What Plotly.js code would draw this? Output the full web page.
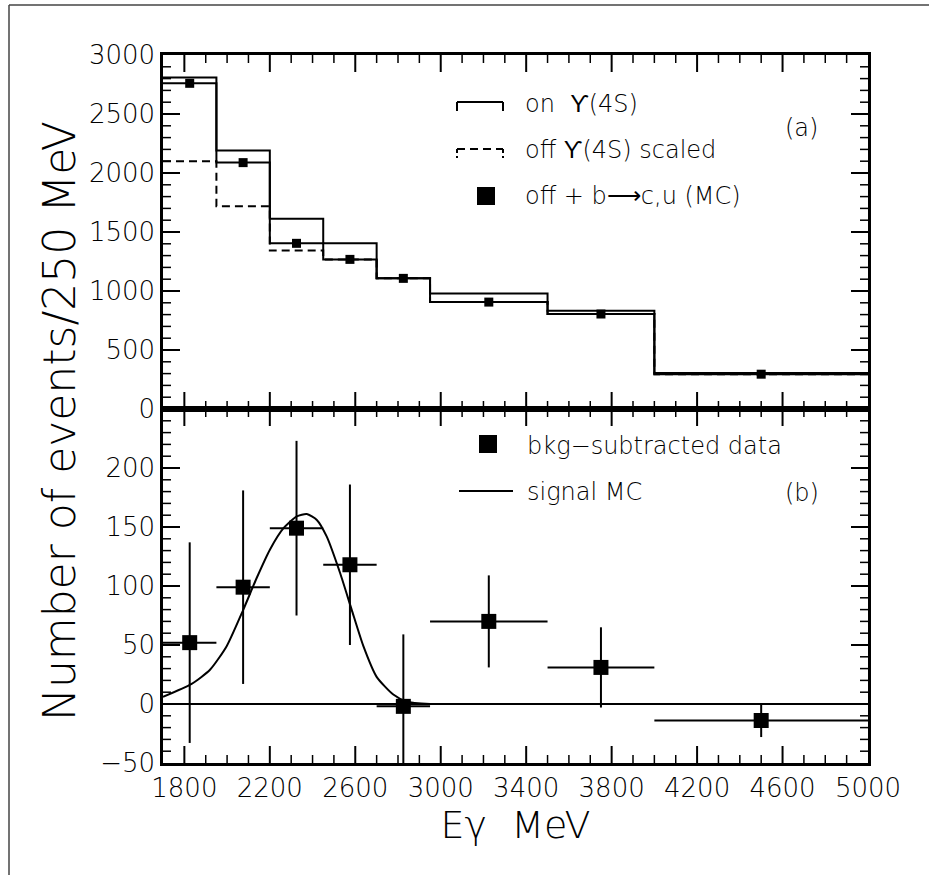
<!DOCTYPE html>
<html>
<head>
<meta charset="utf-8">
<script src="https://cdn.plot.ly/plotly-3.0.1.min.js"></script>
<style>
  html, body { margin: 0; padding: 0; background: #fff; }
  #chart { width: 929px; height: 875px; }
</style>
</head>
<body>
<div id="chart"></div>
<script>
// ---------- data ----------
const binEdges      = [1700, 1950, 2200, 2450, 2700, 2950, 3500, 4000, 5000];
const binCenters    = [1825, 2075, 2325, 2575, 2825, 3225, 3750, 4500];
const binHalfWidths = [125, 125, 125, 125, 125, 275, 250, 500];

// panel (a)
const onY4S      = [2810, 2190, 1612, 1404, 1107, 978, 832, 305];
const offScaled  = [2100, 1718, 1343, 1268, 1107, 906, 805, 295];
const offPlusBcu = [2760, 2088, 1404, 1268, 1107, 906, 805, 295];

// panel (b)
const bkgSub    = [52, 99, 149, 118, -2, 70, 31, -14];
const bkgSubErr = [85, 82, 74, 68, 61, 39, 34, 14];
const sigMCx = [1700, 1834, 1920, 1998, 2076, 2139, 2201, 2264, 2326, 2373, 2420, 2466, 2529, 2583, 2638, 2700, 2778, 2841, 2950];
const sigMCy = [6, 17, 29, 49, 80, 107, 131, 149, 159, 161, 156, 142, 111, 80, 49, 23, 8, 2, 0];

// tick labels
const yTickB = [-50, 0, 50, 100, 150, 200, 250];
const yTickBText = ['\u221250', '0', '50', '100', '150', '200', ''];

// ---------- helpers ----------
const W = 929, H = 875, ML = 163, MR = 61, MT = 55, MB = 112;
const PW = W - ML - MR, PH = H - MT - MB;
const px = x => (x - ML) / PW;
const py = y => (H - MB - y) / PH;
const stepY = v => v.concat([v[v.length - 1]]);

const FONT = 'DejaVu Sans, Liberation Sans, sans-serif';
const TICKFONT = { family: FONT, size: 26, color: '#000', weight: 300 };
const XR = [1700, 5000], YRB = [-50, 250], YRA = [0, 3000];

const traces = [
  { x: binEdges, y: stepY(offScaled), xaxis: 'x2', yaxis: 'y2', mode: 'lines',
    line: { shape: 'hv', color: '#000', width: 2, dash: '8px,5px' }, name: 'off Υ(4S) scaled', showlegend: false },
  { x: binEdges, y: stepY(offPlusBcu), xaxis: 'x2', yaxis: 'y2', mode: 'lines',
    line: { shape: 'hv', color: '#000', width: 2 }, name: 'off + b→c,u', showlegend: false },
  { x: binEdges, y: stepY(onY4S), xaxis: 'x2', yaxis: 'y2', mode: 'lines',
    line: { shape: 'hv', color: '#000', width: 2 }, name: 'on Υ(4S)', showlegend: false },
  { x: binCenters, y: offPlusBcu, xaxis: 'x2', yaxis: 'y2', mode: 'markers',
    marker: { symbol: 'square', size: 9, color: '#000' }, showlegend: false },
  { x: sigMCx, y: sigMCy, xaxis: 'x', yaxis: 'y', mode: 'lines',
    line: { shape: 'spline', smoothing: 0.6, color: '#000', width: 2 }, name: 'signal MC', showlegend: false },
  { x: binCenters, y: bkgSub, xaxis: 'x', yaxis: 'y', mode: 'markers',
    marker: { symbol: 'square', size: 15, color: '#000' },
    error_y: { type: 'data', array: bkgSubErr, visible: true, color: '#000', thickness: 2, width: 0 },
    error_x: { type: 'data', array: binHalfWidths, visible: true, color: '#000', thickness: 2, width: 0 },
    name: 'bkg-subtracted data', showlegend: false }
];

// ---------- inward frame ticks drawn as line traces (tick lengths in px converted to axis units) ----------
const MAJ = 17, MIN = 8;
function frameTicks(xref, yref, xr, yr, panelPx, xStep, xTick0, xMajor, yStep, yTick0, yMajor) {
  const dx = (xr[1] - xr[0]) / PW, dy = (yr[1] - yr[0]) / panelPx;
  const maj = { x: [], y: [] }, min = { x: [], y: [] };
  const isMaj = (v, t0, m) => Math.abs(((v - t0) % m + m) % m) < 1e-6;
  for (let v = xTick0; v < xr[1]; v += xStep) {
    const t = isMaj(v, xTick0, xMajor) ? maj : min, L = (t === maj ? MAJ : MIN) * dy;
    t.x.push(v, v, null, v, v, null);
    t.y.push(yr[0], yr[0] + L, null, yr[1], yr[1] - L, null);
  }
  for (let v = Math.ceil((yr[0] + 1e-9) / yStep) * yStep; v < yr[1]; v += yStep) {
    const t = isMaj(v, yTick0, yMajor) ? maj : min, L = (t === maj ? MAJ : MIN) * dx;
    t.x.push(xr[0], xr[0] + L, null, xr[1], xr[1] - L, null);
    t.y.push(v, v, null, v, v, null);
  }
  [[maj, 2], [min, 1.5]].forEach(p => traces.push({ x: p[0].x, y: p[0].y, xaxis: xref, yaxis: yref,
    mode: 'lines', connectgaps: false, line: { color: '#000', width: p[1] }, showlegend: false, hoverinfo: 'skip' }));
}
frameTicks('x', 'y', XR, YRB, PH / 2, 100, 1800, 400, 10, 0, 50);
frameTicks('x2', 'y2', XR, YRA, PH / 2, 100, 1800, 400, 100, 0, 500);

const shapes = [];
const annotations = [];
const lineShape = (x0, y0, x1, y1, dash, w) => ({
  type: 'line', xref: 'paper', yref: 'paper', x0: px(x0), y0: py(y0), x1: px(x1), y1: py(y1),
  line: { color: '#000', width: w || 2, dash: dash || 'solid' }
});
shapes.push(lineShape(457, 102, 503, 102));
shapes.push(lineShape(457, 102, 457, 111));
shapes.push(lineShape(503, 102, 503, 111));
shapes.push(lineShape(457, 149, 503, 149, '8px,5px'));
shapes.push(lineShape(457, 149, 457, 158, '4px,3px'));
shapes.push(lineShape(503, 149, 503, 158, '4px,3px'));
shapes.push({ type: 'rect', xref: 'paper', yref: 'paper', x0: px(477), x1: px(495), y0: py(187), y1: py(205),
  fillcolor: '#000', line: { width: 0 } });
shapes.push({ type: 'rect', xref: 'paper', yref: 'paper', x0: px(479), x1: px(497), y0: py(435), y1: py(453),
  fillcolor: '#000', line: { width: 0 } });
shapes.push(lineShape(459, 491, 513, 491));
shapes.push({ type: 'line', xref: 'paper', yref: 'paper', x0: px(9), x1: px(9), y0: py(5), y1: py(875),
  line: { color: '#444', width: 1.5 } });
shapes.push({ type: 'line', xref: 'paper', yref: 'paper', x0: px(9), x1: px(929), y0: py(5), y1: py(5),
  line: { color: '#444', width: 1.5 } });

const txt = (x, y, text, size, anchor) => ({
  xref: 'paper', yref: 'paper', x: px(x), y: py(y), text: text, showarrow: false,
  xanchor: anchor || 'left', yanchor: 'middle', font: { family: FONT, size: size || 24, color: '#000', weight: 300 }
});
annotations.push(txt(523, 104, 'on  \u03D2(4S)'));
annotations.push(txt(523, 150, 'off \u03D2(4S) scaled'));
annotations.push(txt(523, 196, 'off + b\u27F6c,u (MC)'));
annotations.push(txt(801, 128, '(a)', 24, 'center'));
annotations.push(txt(525, 446, 'bkg\u2212subtracted data'));
annotations.push(txt(525, 492, 'signal MC'));
annotations.push(txt(802, 493, '(b)', 24, 'center'));
annotations.push({ xref: 'paper', yref: 'paper', x: px(60), y: py(421), text: 'Number of events/250 MeV',
  showarrow: false, textangle: -90, xanchor: 'center', yanchor: 'middle',
  font: { family: FONT, size: 44, color: '#000', weight: 300 } });

const frameAxis = {
  ticks: '', showline: true, linecolor: '#000', linewidth: 2.5, mirror: true, showgrid: false, autorange: false
};

const layout = {
  width: W, height: H,
  margin: { l: ML, r: MR, t: MT, b: MB },
  paper_bgcolor: '#fff', plot_bgcolor: '#fff',
  showlegend: false,
  font: { family: FONT, color: '#000' },
  xaxis: Object.assign({}, frameAxis, { anchor: 'y', domain: [0, 1], range: XR, tick0: 1800, dtick: 400,
    zeroline: false, tickfont: TICKFONT,
    title: { text: 'E\u03B3\u00A0 MeV', font: { family: FONT, size: 38, color: '#000', weight: 300 }, standoff: 6 } }),
  xaxis2: Object.assign({}, frameAxis, { anchor: 'y2', domain: [0, 1], range: XR, tick0: 1800, dtick: 400,
    zeroline: false, showticklabels: false }),
  yaxis: Object.assign({}, frameAxis, { domain: [0, 0.5], range: YRB, tickvals: yTickB, ticktext: yTickBText,
    zeroline: true, zerolinecolor: '#000', zerolinewidth: 1.5, tickfont: TICKFONT }),
  yaxis2: Object.assign({}, frameAxis, { domain: [0.5, 1], range: YRA, tick0: 0, dtick: 500,
    zeroline: false, tickfont: TICKFONT }),
  shapes: shapes,
  annotations: annotations
};

Plotly.newPlot('chart', traces, layout, { displayModeBar: false });
</script>
</body>
</html>
